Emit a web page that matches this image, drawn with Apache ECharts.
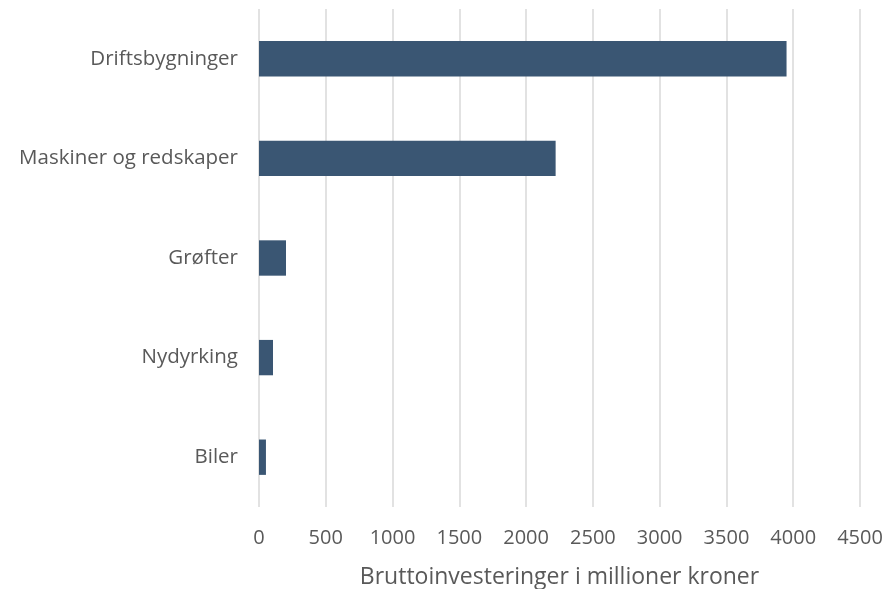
<!DOCTYPE html>
<html>
<head>
<meta charset="utf-8">
<script src="https://cdn.jsdelivr.net/npm/echarts@6/dist/echarts.min.js"></script>
<style>
  html, body { margin: 0; padding: 0; background: #fff; }
  #chart { width: 888px; height: 589px; }
</style>
</head>
<body>
<div id="chart"></div>
<script>
// kategorier, nederst først (yAxis category starter nedenfra)
var categories = ['Biler', 'Nydyrking', 'Grøfter', 'Maskiner og redskaper', 'Driftsbygninger'];
var values = [52, 105, 202, 2221, 3950];
var xTicks = [0, 500, 1000, 1500, 2000, 2500, 3000, 3500, 4000, 4500];

var chart = echarts.init(document.getElementById('chart'));
var font = '"Open Sans", "DejaVu Sans", sans-serif';

var option = {
  animation: false,
  grid: {
    left: 259,
    right: 28,
    top: 9,
    bottom: 82,
    outerBoundsMode: 'none'
  },
  xAxis: {
    type: 'value',
    min: xTicks[0],
    max: xTicks[xTicks.length - 1],
    interval: 500,
    name: 'Bruttoinvesteringer i millioner kroner',
    nameLocation: 'middle',
    nameGap: 59,
    nameTextStyle: { color: '#595959', fontSize: 23, fontFamily: font },
    axisLine: { show: false },
    axisTick: { show: false },
    axisLabel: {
      color: '#595959', fontSize: 20, fontFamily: font, margin: 21,
      formatter: function (v) { return String(v); }
    },
    splitLine: { lineStyle: { color: '#d9d9d9', width: 1.5 } }
  },
  yAxis: {
    type: 'category',
    data: categories,
    axisLine: { show: false },
    axisTick: { show: false },
    axisLabel: { color: '#595959', fontSize: 20.5, fontFamily: font, margin: 21 }
  },
  series: [{
    type: 'bar',
    data: values,
    barWidth: '35.5%',
    itemStyle: { color: '#3a5673' }
  }]
};
chart.setOption(option);
</script>
</body>
</html>
